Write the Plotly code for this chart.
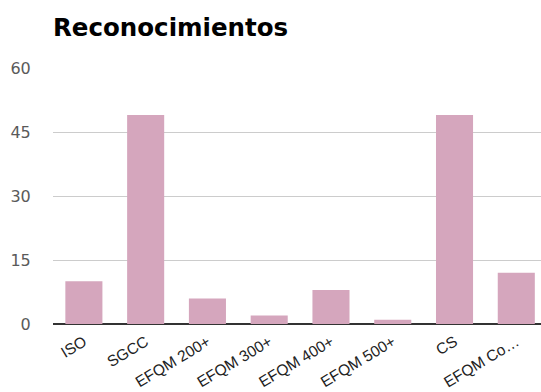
import plotly.graph_objects as go

categories = ["ISO", "SGCC", "EFQM 200+", "EFQM 300+", "EFQM 400+", "EFQM 500+", "CS", "EFQM Co…"]
values = [10, 49, 6, 2, 8, 1, 49, 12]
y_ticks = [0, 15, 30, 45, 60]
title_text = "Reconocimientos"

fig = go.Figure(
    go.Bar(
        x=categories,
        y=values,
        marker=dict(color="#d5a6bd", line=dict(width=0)),
        hoverinfo="x+y",
    )
)

fig.update_layout(
    width=541,
    height=392,
    paper_bgcolor="white",
    plot_bgcolor="white",
    margin=dict(l=53, r=0, t=68, b=68, autoexpand=False),
    bargap=0.4,
    showlegend=False,
    title=dict(
        text="<b>" + title_text + "</b>",
        x=53 / 541,
        xanchor="left",
        y=1 - 27 / 392,
        yanchor="middle",
        font=dict(family="DejaVu Sans, sans-serif", size=24.5, color="#000000"),
    ),
    font=dict(family="Liberation Sans, Arial, sans-serif", color="#444444"),
)

fig.update_xaxes(
    range=[-0.5, 7.4],
    tickangle=-31,
    tickfont=dict(family="Liberation Sans, Arial, sans-serif", size=15.5, color="#222222"),
    showgrid=False,
    showline=False,
    zeroline=False,
    ticks="outside",
    ticklen=2,
    tickcolor="rgba(0,0,0,0)",
    automargin=False,
    fixedrange=True,
)

fig.update_yaxes(
    range=[0, 60.05],
    tickvals=y_ticks,
    ticktext=[str(v) for v in y_ticks],
    tickfont=dict(family="DejaVu Sans, sans-serif", size=16, color="#5a5a5a"),
    showgrid=True,
    gridcolor="#cccccc",
    gridwidth=1,
    zeroline=True,
    zerolinecolor="#333333",
    zerolinewidth=2,
    showline=False,
    ticks="outside",
    ticklen=18,
    tickcolor="rgba(0,0,0,0)",
    automargin=False,
    fixedrange=True,
)

fig.write_html(
    "out.html",
    config={"displayModeBar": False},
    post_script="document.body.style.margin='0';document.body.style.overflow='hidden';",
)
